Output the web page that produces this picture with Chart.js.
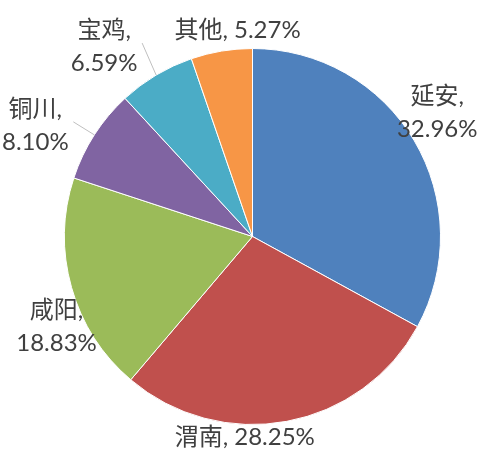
<!DOCTYPE html>
<html>
<head>
<meta charset="utf-8">
<script src="https://cdn.jsdelivr.net/npm/chart.js@4"></script>
<style>
  html, body { margin: 0; padding: 0; background: #fff; }
  #wrap { width: 499px; height: 470px; }
</style>
</head>
<body>
<div id="wrap"><canvas id="pie"></canvas></div>
<script>
const regioes = ['延安', '渭南', '咸阳', '铜川', '宝鸡', '其他'];
const percentuais = [32.96, 28.25, 18.83, 8.10, 6.59, 5.27];
const cores = ['#4F81BD', '#C0504D', '#9BBB59', '#8064A2', '#4BACC6', '#F79646'];

// rotulos quebrados em duas linhas ou nao (como no Excel)
const quebraLinha = [true, false, true, true, true, false];
// deslocamento do rotulo em relacao ao meio da borda da fatia
const deslocRotulo = [[23, -28], [-42, 16], [-15, 39], [-59, -10], [-52, -29], [16, -21]];
const temGuia = [false, false, false, true, true, false];

const fonteRotulo = '24px Lato, "Noto Sans CJK SC", sans-serif';

const rotulosPlugin = {
  id: 'rotulos',
  afterDatasetsDraw(chart) {
    const ctx = chart.ctx;
    const meta = chart.getDatasetMeta(0);
    ctx.save();
    ctx.font = fonteRotulo;
    ctx.fillStyle = '#404040';
    ctx.textAlign = 'center';
    ctx.textBaseline = 'middle';
    meta.data.forEach((arc, i) => {
      const p = arc.getProps(['x', 'y', 'startAngle', 'endAngle', 'outerRadius'], true);
      const meio = (p.startAngle + p.endAngle) / 2;
      const bx = p.x + Math.cos(meio) * p.outerRadius;
      const by = p.y + Math.sin(meio) * p.outerRadius;
      const cx = bx + deslocRotulo[i][0];
      const cy = by + deslocRotulo[i][1];
      const valor = percentuais[i].toFixed(2) + '%';

      if (temGuia[i]) {
        ctx.strokeStyle = '#BFBFBF';
        ctx.lineWidth = 1;
        ctx.beginPath();
        ctx.moveTo(cx + 38, cy - 3);
        ctx.lineTo(bx, by);
        ctx.stroke();
      }

      if (quebraLinha[i]) {
        ctx.fillText(regioes[i] + ',', cx, cy - 16);
        ctx.fillText(valor, cx, cy + 17);
      } else {
        ctx.fillText(regioes[i] + ', ' + valor, cx, cy);
      }
    });
    ctx.restore();
  }
};

const pie = document.getElementById('pie');

new Chart(pie, {
  type: 'pie',
  data: {
    labels: regioes,
    datasets: [
      {
        data: percentuais,
        backgroundColor: cores,
        borderColor: '#FFFFFF',
        borderWidth: 1,
      },
    ],
  },
  options: {
    responsive: true,
    maintainAspectRatio: false,
    animation: false,
    layout: {
      padding: { left: 6, right: 0, top: 48, bottom: 45 },
    },
    plugins: {
      legend: { display: false },
      tooltip: { enabled: false },
    },
  },
  plugins: [rotulosPlugin],
});
</script>
</body>
</html>
